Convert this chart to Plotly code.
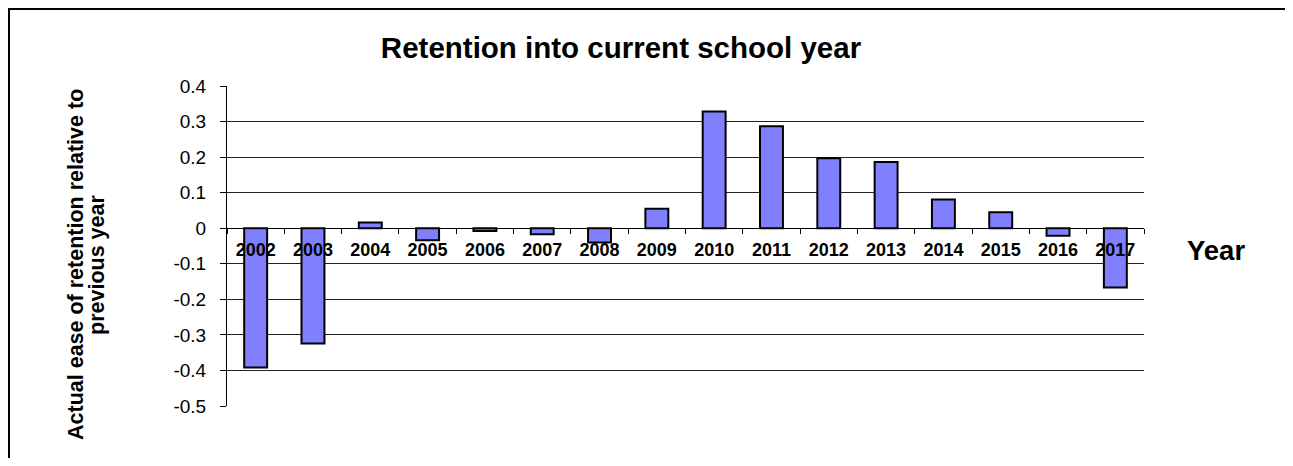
import plotly.graph_objects as go

# Данные графика
years = ['2002', '2003', '2004', '2005', '2006', '2007', '2008', '2009',
         '2010', '2011', '2012', '2013', '2014', '2015', '2016', '2017']
retention = [-0.392, -0.324, 0.016, -0.034, -0.008, -0.017, -0.040, 0.055,
             0.328, 0.287, 0.197, 0.186, 0.081, 0.045, -0.021, -0.167]
y_ticks = [0.4, 0.3, 0.2, 0.1, 0, -0.1, -0.2, -0.3, -0.4, -0.5]
y_tick_text = ['0.4', '0.3', '0.2', '0.1', '0', '-0.1', '-0.2', '-0.3', '-0.4', '-0.5']

# страница имеет отступ body 8px, поэтому сдвигаем всё на 8px
OFF = 8
W, H = 1277, 450
L, T = 227 - OFF, 86 - OFF
pw, ph = 917, 320
R, B = W - L - pw, H - T - ph
y_min, y_max = -0.5, 0.4

font_family = 'Arial, "Liberation Sans", sans-serif'


def px_x(px):
    # px - координата на странице
    return (px - OFF - L) / pw


def px_y(py):
    return (T + ph - (py - OFF)) / ph


fig = go.Figure(go.Bar(
    x=years,
    y=retention,
    width=0.4,
    marker=dict(color='#8080FF', line=dict(color='black', width=2)),
))

fig.update_layout(
    width=W, height=H,
    margin=dict(l=L, r=R, t=T, b=B),
    plot_bgcolor='white',
    paper_bgcolor='white',
    font=dict(family=font_family, color='black'),
    showlegend=False,
    title=dict(
        text='<b>Retention into current school year</b>',
        font=dict(size=29.5, family=font_family, color='black'),
        x=px_x(621), xref='paper', xanchor='center',
        y=1 - (48 - OFF) / H, yref='container', yanchor='middle',
    ),
    xaxis=dict(
        type='category',
        anchor='free',
        position=(0 - y_min) / (y_max - y_min),
        showline=True, linecolor='black', linewidth=1,
        ticks='outside', tickson='boundaries', ticklen=5, tickcolor='black',
        ticklabelstandoff=5,
        showgrid=False,
        tickfont=dict(size=18, family=font_family, color='black', weight='bold'),
    ),
    yaxis=dict(
        range=[y_min, y_max],
        tickvals=y_ticks, ticktext=y_tick_text,
        showline=True, linecolor='black', linewidth=1,
        ticks='outside', ticklen=6, tickcolor='black',
        ticklabelstandoff=10,
        showgrid=True, gridcolor='#222222', gridwidth=1,
        zeroline=False,
        tickfont=dict(size=19, family=font_family, color='black'),
    ),
)

# Подпись оси Y в две строки
for text, xpos in [('<b>Actual ease of retention relative to</b>', 76),
                   ('<b>previous year</b>', 97)]:
    fig.add_annotation(
        text=text,
        xref='paper', yref='paper', x=px_x(xpos), y=px_y(265),
        xanchor='center', yanchor='middle', textangle=-90, showarrow=False,
        font=dict(size=21.5, family=font_family, color='black'),
    )

fig.add_annotation(
    text='<b>Year</b>',
    xref='paper', yref='paper', x=px_x(1216), y=px_y(250),
    xanchor='center', yanchor='middle', showarrow=False,
    font=dict(size=27.5, family=font_family, color='black'),
)

# Рамка вокруг области диаграммы
fig.add_shape(
    type='rect', xref='paper', yref='paper',
    x0=px_x(9), x1=px_x(1400), y0=px_y(600), y1=px_y(9),
    line=dict(color='black', width=2), layer='below',
)

fig.write_html('out.html')
